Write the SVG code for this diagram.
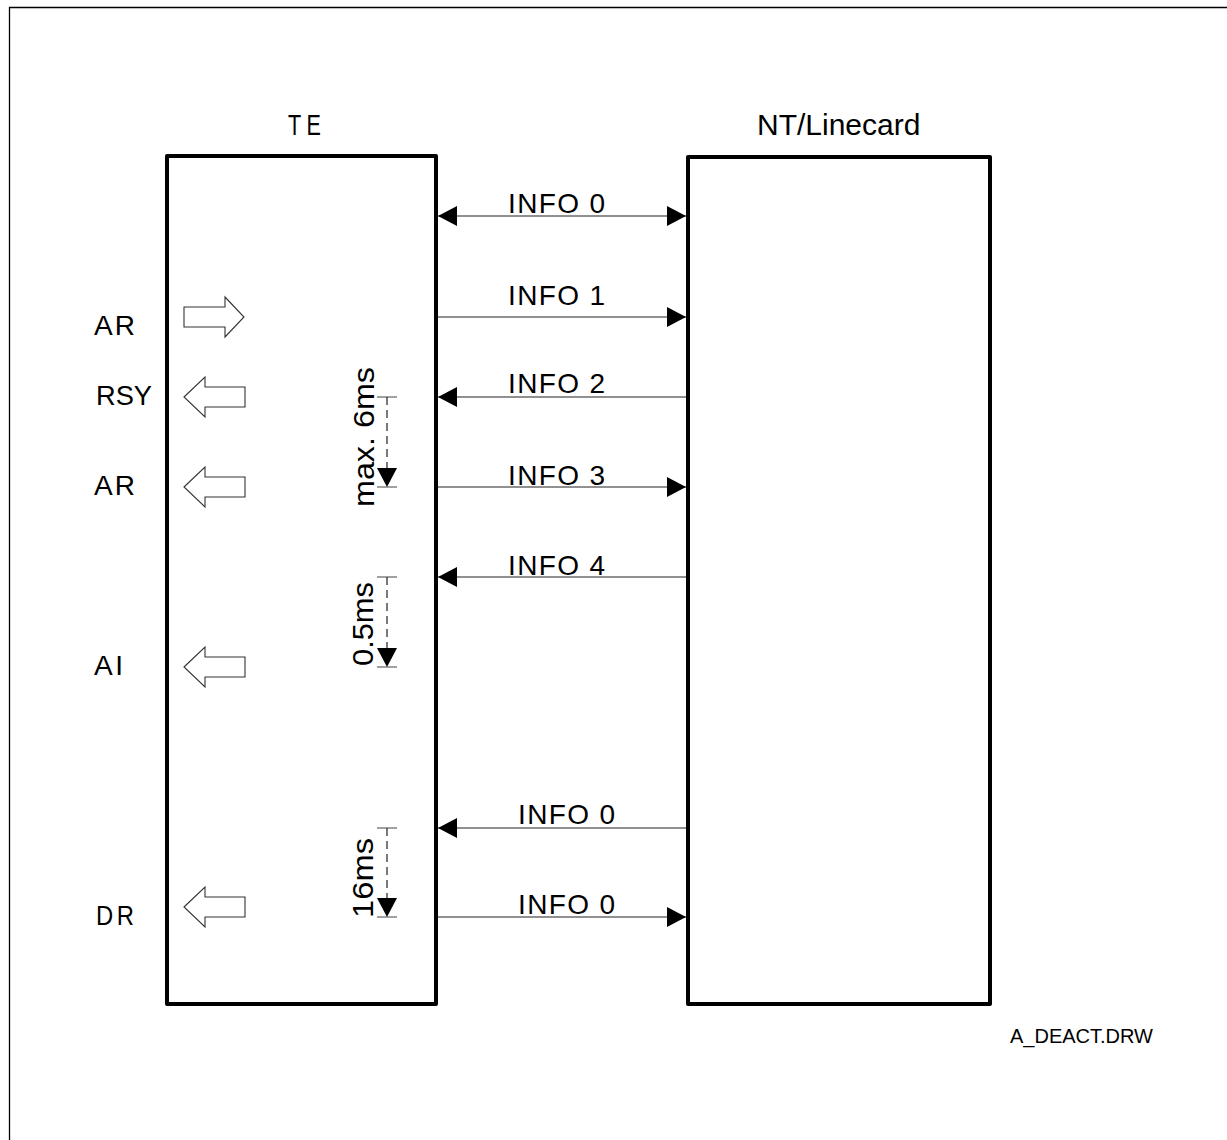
<svg xmlns="http://www.w3.org/2000/svg" width="1227" height="1140" viewBox="0 0 1227 1140">
<style>
  .box { fill: #fff; stroke: #000; stroke-width: 4; stroke-linejoin: round; }
  .frame { fill: none; stroke: #000; stroke-width: 1.3; }
  .lbl { font-family: "Liberation Sans", Arial, sans-serif; font-size: 28px; fill: #000; }
  .vlbl { font-family: "Liberation Sans", Arial, sans-serif; font-size: 29px; fill: #000; }
  .title { font-family: "Liberation Sans", Arial, sans-serif; font-size: 30px; fill: #000; }
  .small { font-family: "Liberation Sans", Arial, sans-serif; font-size: 20px; fill: #000; }
  .conn { fill: none; stroke: #222; stroke-width: 1.2; }
  .dash { fill: none; stroke: #222; stroke-width: 1.2; stroke-dasharray: 8 5; }
  .tick { fill: none; stroke: #444; stroke-width: 1.2; }
  .blk { fill: #fff; stroke: #333; stroke-width: 1.1; stroke-linejoin: miter; }
</style>
<defs>
  <marker id="ah" markerUnits="userSpaceOnUse" markerWidth="20" markerHeight="20" refX="19" refY="10" orient="auto-start-reverse">
    <path d="M0,0 L19,10 L0,20 Z" fill="#000"/>
  </marker>
  <clipPath id="clipFile"><rect x="990" y="1010" width="163" height="50"/></clipPath>
</defs>
<rect width="1227" height="1140" fill="#fff"/>
<path class="frame" d="M9.5,1140 V7.5 H1227"/>

<g id="te">
  <rect class="box" x="167" y="156" width="269" height="848"/>
  <text class="title" transform="translate(288,135) scale(0.72,1)" x="0" y="0" textLength="45.8" lengthAdjust="spacing">TE</text>
</g>
<g id="nt">
  <rect class="box" x="688" y="157" width="302" height="847"/>
  <text class="title" x="757" y="135">NT/Linecard</text>
</g>

<g id="primitives">
  <g id="p-ar1">
    <polygon class="blk" points="184,307 225,307 225,297 244,317 225,337 225,327 184,327"/>
    <text class="lbl" x="94" y="335" textLength="41" lengthAdjust="spacing">AR</text>
  </g>
  <g id="p-rsy">
    <polygon class="blk" points="184,397 205,377 205,387 245,387 245,407 205,407 205,417"/>
    <text class="lbl" x="96" y="405" textLength="56" lengthAdjust="spacingAndGlyphs">RSY</text>
  </g>
  <g id="p-ar2">
    <polygon class="blk" points="184,487 205,467 205,477 245,477 245,497 205,497 205,507"/>
    <text class="lbl" x="94" y="495" textLength="41" lengthAdjust="spacing">AR</text>
  </g>
  <g id="p-ai">
    <polygon class="blk" points="184,667 205,647 205,657 245,657 245,677 205,677 205,687"/>
    <text class="lbl" x="94" y="675" textLength="29" lengthAdjust="spacing">AI</text>
  </g>
  <g id="p-dr">
    <polygon class="blk" points="184,907 205,887 205,897 245,897 245,917 205,917 205,927"/>
    <text class="lbl" transform="translate(96,925) scale(0.85,1)" x="0" y="0" textLength="44.7" lengthAdjust="spacing">DR</text>
  </g>
</g>

<g id="timers">
  <g id="t-6ms">
    <path class="tick" d="M377,397 H397 M377,487 H397"/>
    <path class="dash" d="M387,397 V487" marker-end="url(#ah)"/>
    <text class="vlbl" transform="translate(374,507) rotate(-90)" textLength="140" lengthAdjust="spacingAndGlyphs">max. 6ms</text>
  </g>
  <g id="t-05ms">
    <path class="tick" d="M377,577 H397 M377,667 H397"/>
    <path class="dash" d="M387,577 V667" marker-end="url(#ah)"/>
    <text class="vlbl" transform="translate(373,666) rotate(-90)" textLength="84" lengthAdjust="spacingAndGlyphs">0.5ms</text>
  </g>
  <g id="t-16ms">
    <path class="tick" d="M377,828 H397 M377,917 H397"/>
    <path class="dash" d="M387,828 V917" marker-end="url(#ah)"/>
    <text class="vlbl" transform="translate(373,918) rotate(-90)" textLength="80" lengthAdjust="spacingAndGlyphs">16ms</text>
  </g>
</g>

<g id="connectors">
  <path class="conn" d="M438,216 H686" marker-start="url(#ah)" marker-end="url(#ah)"/>
  <path class="conn" d="M438,317 H686" marker-end="url(#ah)"/>
  <path class="conn" d="M686,397 H438" marker-end="url(#ah)"/>
  <path class="conn" d="M438,487 H686" marker-end="url(#ah)"/>
  <path class="conn" d="M686,577 H438" marker-end="url(#ah)"/>
  <path class="conn" d="M686,828 H438" marker-end="url(#ah)"/>
  <path class="conn" d="M438,917 H686" marker-end="url(#ah)"/>
  <text class="lbl" x="508" y="213" textLength="97" lengthAdjust="spacing">INFO 0</text>
  <text class="lbl" x="508" y="305" textLength="97" lengthAdjust="spacing">INFO 1</text>
  <text class="lbl" x="508" y="393" textLength="97" lengthAdjust="spacing">INFO 2</text>
  <text class="lbl" x="508" y="485" textLength="97" lengthAdjust="spacing">INFO 3</text>
  <text class="lbl" x="508" y="575" textLength="97" lengthAdjust="spacing">INFO 4</text>
  <text class="lbl" x="518" y="824" textLength="97" lengthAdjust="spacing">INFO 0</text>
  <text class="lbl" x="518" y="914" textLength="97" lengthAdjust="spacing">INFO 0</text>
</g>

<g id="filename" clip-path="url(#clipFile)">
  <text class="small" x="1010" y="1043">A_DEACT.DRW</text>
</g>
</svg>
